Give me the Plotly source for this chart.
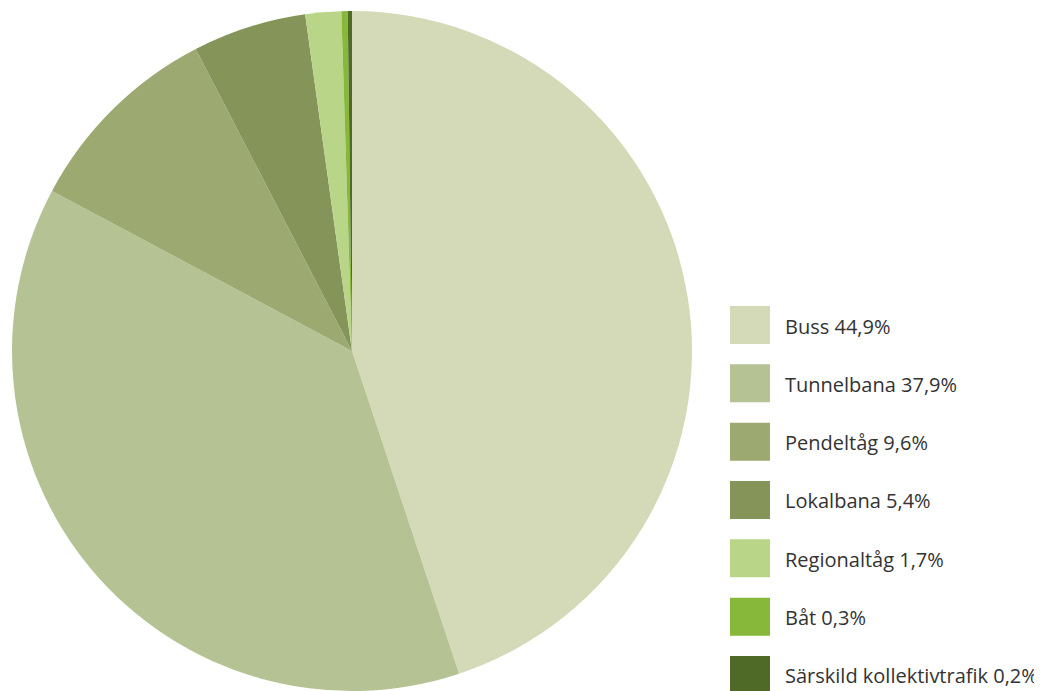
import plotly.graph_objects as go

categories = ["Buss", "Tunnelbana", "Pendeltåg", "Lokalbana", "Regionaltåg", "Båt", "Särskild kollektivtrafik"]
shares = [44.9, 37.9, 9.6, 5.4, 1.7, 0.3, 0.2]
colors = ["#D4DAB7", "#B5C293", "#9CA970", "#85955A", "#B8D588", "#87B83A", "#4F6A26"]

def fmt(v):
    return f"{v:.1f}".replace(".", ",") + "%"

W, H = 1042, 691
OFF = 8  # page body margin offset

def px_x(x):
    return (x - OFF) / W

def px_y(y):
    return 1 - (y - OFF) / H

fig = go.Figure(go.Pie(
    labels=categories,
    values=shares,
    sort=False,
    direction="clockwise",
    rotation=0,
    marker=dict(colors=colors, line=dict(width=0)),
    textinfo="none",
    hoverinfo="label+percent",
    domain=dict(x=[px_x(8), px_x(696)], y=[px_y(691), px_y(11)]),
    showlegend=False,
))

# custom legend (large swatches) built from the data lists
sq_left, sq_w, sq_h, first_top, step, text_x = 730, 40, 38, 306, 58.33, 783
shapes, annotations = [], []
for i, (cat, v, c) in enumerate(zip(categories, shares, colors)):
    top = first_top + i * step
    shapes.append(dict(type="rect", xref="paper", yref="paper",
                       x0=px_x(sq_left), x1=px_x(sq_left + sq_w),
                       y0=px_y(top + sq_h), y1=px_y(top),
                       fillcolor=c, line=dict(width=0), layer="above"))
    annotations.append(dict(xref="paper", yref="paper", x=px_x(text_x),
                            y=px_y(top + sq_h / 2 + 1),
                            xanchor="left", yanchor="middle", showarrow=False,
                            text=f"{cat} {fmt(v)}",
                            font=dict(family="Open Sans", size=20, color="#333333")))

fig.update_layout(
    width=W, height=H,
    margin=dict(l=0, r=0, t=0, b=0),
    paper_bgcolor="white", plot_bgcolor="white",
    shapes=shapes, annotations=annotations,
)

fig.write_html("out.html")
